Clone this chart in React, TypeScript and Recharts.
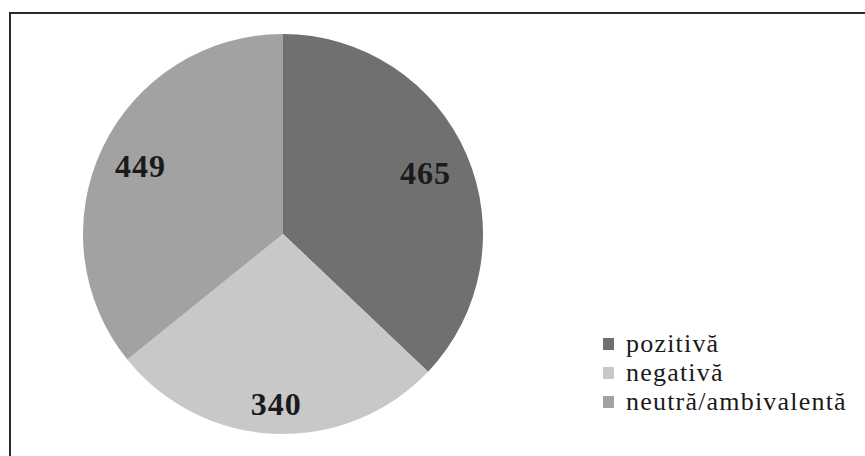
import React from "react";
import { PieChart, Pie, Cell, Legend } from "recharts";

const categories = ["pozitivă", "negativă", "neutră/ambivalentă"];
const values = [465, 340, 449];
const colors = ["#707070", "#c8c8c8", "#a2a2a2"];
const labelRadius = [155, 170, 158];

const data = categories.map((name, i) => ({ name, value: values[i] }));

const RAD = Math.PI / 180;

const renderLabel = (props: any) => {
  const { cx, cy, midAngle, index, value } = props;
  const r = labelRadius[index];
  const x = cx + r * Math.cos(-midAngle * RAD);
  const y = cy + r * Math.sin(-midAngle * RAD);
  return (
    <text
      x={x}
      y={y}
      textAnchor="middle"
      dominantBaseline="central"
      fontFamily="'Liberation Serif', 'Times New Roman', serif"
      fontWeight="bold"
      fontSize={32}
      letterSpacing={1}
      fill="#1a1a1a"
    >
      {value}
    </text>
  );
};

const renderLegend = () => (
  <div style={{ fontFamily: "'Liberation Serif', 'Times New Roman', serif" }}>
    {categories.map((c, i) => (
      <div
        key={c}
        style={{ display: "flex", alignItems: "center", height: 29 }}
      >
        <div
          style={{
            width: 11,
            height: 12,
            background: colors[i],
            marginRight: 12,
          }}
        />
        <span
          style={{
            fontSize: 26,
            letterSpacing: 1.2,
            color: "#1a1a1a",
            lineHeight: "29px",
          }}
        >
          {c}
        </span>
      </div>
    ))}
  </div>
);

export default function App() {
  return (
    <div
      style={{
        position: "fixed",
        left: 0,
        top: 0,
        width: 865,
        height: 456,
        background: "#ffffff",
        overflow: "hidden",
      }}
    >
      <div
        style={{
          position: "absolute",
          left: 9,
          top: 12,
          width: 900,
          height: 500,
          borderTop: "2px solid #2a2a2a",
          borderLeft: "2px solid #2a2a2a",
        }}
      />
      <div style={{ position: "absolute", left: 0, top: 0 }}>
        <PieChart
          width={865}
          height={456}
          margin={{ top: 0, right: 0, bottom: 0, left: 0 }}
        >
          <Pie
            data={data}
            dataKey="value"
            nameKey="name"
            cx={283}
            cy={234}
            outerRadius={200}
            startAngle={90}
            endAngle={-270}
            stroke="none"
            label={renderLabel}
            labelLine={false}
            isAnimationActive={false}
          >
            {data.map((d, i) => (
              <Cell key={d.name} fill={colors[i]} />
            ))}
          </Pie>
          <Legend
            content={renderLegend}
            wrapperStyle={{ left: 603, top: 329, width: 262 }}
          />
        </PieChart>
      </div>
    </div>
  );
}
